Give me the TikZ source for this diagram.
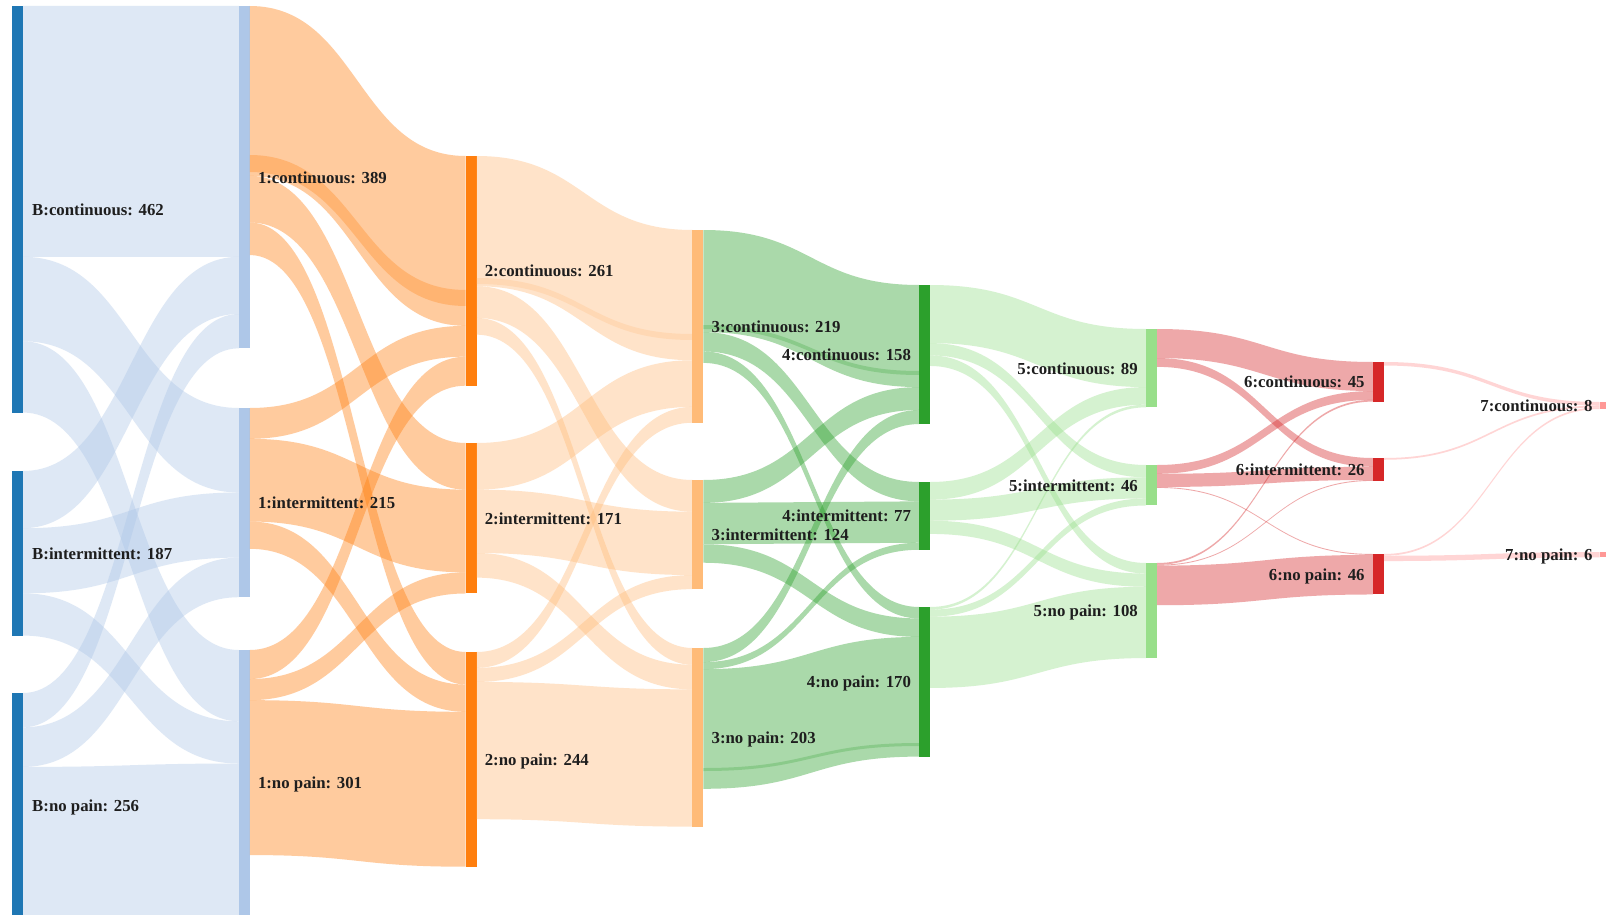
\documentclass[tikz,border=0pt]{standalone}
\usepackage{fontspec}
\setmainfont{Liberation Serif}
\usetikzlibrary{calc}
\definecolor{cB}{HTML}{1F77B4}
\definecolor{cA}{HTML}{AEC7E8}
\definecolor{cO}{HTML}{FF7F0E}
\definecolor{cLO}{HTML}{FFBB78}
\definecolor{cG}{HTML}{2CA02C}
\definecolor{cLG}{HTML}{98DF8A}
\definecolor{cR}{HTML}{D62728}
\definecolor{cLR}{HTML}{FF9896}
\definecolor{txt}{HTML}{1E1E1E}
\newcommand\skScale{0.88}
\newcommand\mkNode[5]{%
  \pgfmathsetmacro\myX{12+226.8*#2}%
  \pgfmathsetmacro\myH{#4*\skScale}%
  \node[bar, fill=#5, minimum height=\myH pt, anchor=north west] (#1) at (\myX,#3) {};%
  \expandafter\xdef\csname sOut#1\endcsname{0}%
  \expandafter\xdef\csname tIn#1\endcsname{0}%
}
\newcommand\mkBand[8][0.4]{% [opacity] src tgt so se ti te colour
  \fill[lk, fill opacity=#1, fill=#8] ($(#2.north east)+(0,#4)$) .. controls ($(#2.north east)+(108,#4)$) and ($(#3.north west)+(-108,#6)$) .. ($(#3.north west)+(0,#6)$) -- ($(#3.north west)+(0,#7)$) .. controls ($(#3.north west)+(-108,#7)$) and ($(#2.north east)+(108,#5)$) .. ($(#2.north east)+(0,#5)$) -- cycle;%
}
\newcommand\mkLink[4]{%
  \pgfmathsetmacro\myH{#3*\skScale}%
  \edef\mySo{\csname sOut#1\endcsname}%
  \pgfmathsetmacro\mySe{\mySo+\myH}%
  \edef\myTi{\csname tIn#2\endcsname}%
  \pgfmathsetmacro\myTe{\myTi+\myH}%
  \expandafter\xdef\csname sOut#1\endcsname{\mySe}%
  \expandafter\xdef\csname tIn#2\endcsname{\myTe}%
  \mkBand{#1}{#2}{\mySo}{\mySe}{\myTi}{\myTe}{#4}%
}
\begin{document}
\begin{tikzpicture}[x=1pt,y=-1pt,
  bar/.style={rectangle, inner sep=0pt, outer sep=0pt, minimum width=11pt, draw=none},
  lk/.style={draw=none},
  lbl/.style={font=\bfseries\fontsize{16.8}{20}\selectfont, text=txt, inner sep=0pt}]
\useasboundingbox (0,0) rectangle (1606,915);
\fill[white] (0,0) rectangle (1606,915);
\clip (0,0) rectangle (1606,915);
% nodes
\mkNode{c0c}{0}{6}{462}{cB}
\mkNode{c0i}{0}{471}{187}{cB}
\mkNode{c0n}{0}{693}{256}{cB}
\mkNode{c1c}{1}{6}{389}{cA}
\mkNode{c1i}{1}{408}{215}{cA}
\mkNode{c1n}{1}{650}{301}{cA}
\mkNode{c2c}{2}{156}{261}{cO}
\mkNode{c2i}{2}{443}{171}{cO}
\mkNode{c2n}{2}{652}{244}{cO}
\mkNode{c3c}{3}{230}{219}{cLO}
\mkNode{c3i}{3}{480}{124}{cLO}
\mkNode{c3n}{3}{648}{203}{cLO}
\mkNode{c4c}{4}{285}{158}{cG}
\mkNode{c4i}{4}{482}{77}{cG}
\mkNode{c4n}{4}{607}{170}{cG}
\mkNode{c5c}{5}{329}{89}{cLG}
\mkNode{c5i}{5}{465}{46}{cLG}
\mkNode{c5n}{5}{563}{108}{cLG}
\mkNode{c6c}{6}{362}{45}{cR}
\mkNode{c6i}{6}{458}{26}{cR}
\mkNode{c6n}{6}{554}{46}{cR}
\mkNode{c7c}{7}{402}{8}{cLR}
\mkNode{c7n}{7}{552}{6}{cLR}
% links B -> 1
\mkLink{c0c}{c1c}{285}{cA}
\mkLink{c0c}{c1i}{96}{cA}
\mkLink{c0c}{c1n}{81}{cA}
\mkLink{c0i}{c1c}{65}{cA}
\mkLink{c0i}{c1i}{74}{cA}
\mkLink{c0i}{c1n}{48}{cA}
\mkLink{c0n}{c1c}{39}{cA}
\mkLink{c0n}{c1i}{45}{cA}
\mkLink{c0n}{c1n}{172}{cA}
% 1 -> 2
\mkLink{c1c}{c2c}{193}{cO}
\mkLink{c1c}{c2i}{53}{cO}
\mkLink{c1c}{c2n}{37}{cO}
\mkLink{c1i}{c2c}{35}{cO}
\mkLink{c1i}{c2i}{94}{cO}
\mkLink{c1i}{c2n}{31}{cO}
\mkLink{c1n}{c2c}{33}{cO}
\mkLink{c1n}{c2i}{24}{cO}
\mkLink{c1n}{c2n}{176}{cO}
\mkBand[0.3]{c1c}{c2c}{149}{166}{134}{150}{cO}
% 2 -> 3
\mkLink{c2c}{c3c}{148}{cLO}
\mkLink{c2c}{c3i}{36}{cLO}
\mkLink{c2c}{c3n}{19}{cLO}
\mkLink{c2i}{c3c}{53}{cLO}
\mkLink{c2i}{c3i}{72}{cLO}
\mkLink{c2i}{c3n}{28}{cLO}
\mkLink{c2n}{c3c}{18}{cLO}
\mkLink{c2n}{c3i}{16}{cLO}
\mkLink{c2n}{c3n}{156}{cLO}
\mkBand[0.25]{c2c}{c3c}{122}{128}{104}{110}{cLO}
% 3 -> 4
\mkLink{c3c}{c4c}{116}{cG}
\mkLink{c3c}{c4i}{22}{cG}
\mkLink{c3c}{c4n}{13}{cG}
\mkLink{c3i}{c4c}{26}{cG}
\mkLink{c3i}{c4i}{47}{cG}
\mkLink{c3i}{c4n}{21}{cG}
\mkLink{c3n}{c4c}{16}{cG}
\mkLink{c3n}{c4i}{8}{cG}
\mkLink{c3n}{c4n}{136}{cG}
\mkBand[0.25]{c3c}{c4c}{95}{99}{86}{90}{cG}
\mkBand[0.25]{c3n}{c4n}{120}{123}{136}{139}{cG}
% 4 -> 5
\mkLink{c4c}{c5c}{66}{cLG}
\mkLink{c4c}{c5i}{14}{cLG}
\mkLink{c4c}{c5n}{12}{cLG}
\mkLink{c4i}{c5c}{20}{cLG}
\mkLink{c4i}{c5i}{24}{cLG}
\mkLink{c4i}{c5n}{15}{cLG}
\mkLink{c4n}{c5c}{3}{cLG}
\mkLink{c4n}{c5i}{8}{cLG}
\mkLink{c4n}{c5n}{81}{cLG}
% 5 -> 6
\mkLink{c5c}{c6c}{33}{cR}
\mkLink{c5c}{c6i}{10}{cR}
\mkLink{c5i}{c6c}{10}{cR}
\mkLink{c5i}{c6i}{15}{cR}
\mkLink{c5i}{c6n}{1}{cR}
\mkLink{c5n}{c6c}{2}{cR}
\mkLink{c5n}{c6i}{1}{cR}
\mkLink{c5n}{c6n}{45}{cR}
% 6 -> 7
\mkLink{c6c}{c7c}{4}{cLR}
\mkLink{c6i}{c7c}{2}{cLR}
\mkLink{c6n}{c7c}{2}{cLR}
\mkLink{c6n}{c7n}{6}{cLR}
% labels
\node[lbl, anchor=base west] (l0c) at ($(c0c.east)+(9,6)$) {B:continuous: 462};
\node[lbl, anchor=base west] (l0i) at ($(c0i.east)+(9,6)$) {B:intermittent: 187};
\node[lbl, anchor=base west] (l0n) at ($(c0n.east)+(9,6)$) {B:no pain: 256};
\node[lbl, anchor=base west] (l1c) at ($(c1c.east)+(8,6)$) {1:continuous: 389};
\node[lbl, anchor=base west] (l1i) at ($(c1i.east)+(8,6)$) {1:intermittent: 215};
\node[lbl, anchor=base west] (l1n) at ($(c1n.east)+(8,6)$) {1:no pain: 301};
\node[lbl, anchor=base west] (l2c) at ($(c2c.east)+(8,6)$) {2:continuous: 261};
\node[lbl, anchor=base west] (l2i) at ($(c2i.east)+(8,6)$) {2:intermittent: 171};
\node[lbl, anchor=base west] (l2n) at ($(c2n.east)+(8,6)$) {2:no pain: 244};
\node[lbl, anchor=base west] (l3c) at ($(c3c.east)+(8,6)$) {3:continuous: 219};
\node[lbl, anchor=base west] (l3i) at ($(c3i.east)+(8,6)$) {3:intermittent: 124};
\node[lbl, anchor=base west] (l3n) at ($(c3n.east)+(8,6)$) {3:no pain: 203};
\node[lbl, anchor=base east] (l4c) at ($(c4c.west)+(-8,6)$) {4:continuous: 158};
\node[lbl, anchor=base east] (l4i) at ($(c4i.west)+(-8,6)$) {4:intermittent: 77};
\node[lbl, anchor=base east] (l4n) at ($(c4n.west)+(-8,6)$) {4:no pain: 170};
\node[lbl, anchor=base east] (l5c) at ($(c5c.west)+(-8,6)$) {5:continuous: 89};
\node[lbl, anchor=base east] (l5i) at ($(c5i.west)+(-8,6)$) {5:intermittent: 46};
\node[lbl, anchor=base east] (l5n) at ($(c5n.west)+(-8,6)$) {5:no pain: 108};
\node[lbl, anchor=base east] (l6c) at ($(c6c.west)+(-8,6)$) {6:continuous: 45};
\node[lbl, anchor=base east] (l6i) at ($(c6i.west)+(-8,6)$) {6:intermittent: 26};
\node[lbl, anchor=base east] (l6n) at ($(c6n.west)+(-8,6)$) {6:no pain: 46};
\node[lbl, anchor=base east] (l7c) at ($(c7c.west)+(-7,6)$) {7:continuous: 8};
\node[lbl, anchor=base east] (l7n) at ($(c7n.west)+(-7,6)$) {7:no pain: 6};
\end{tikzpicture}
\end{document}
